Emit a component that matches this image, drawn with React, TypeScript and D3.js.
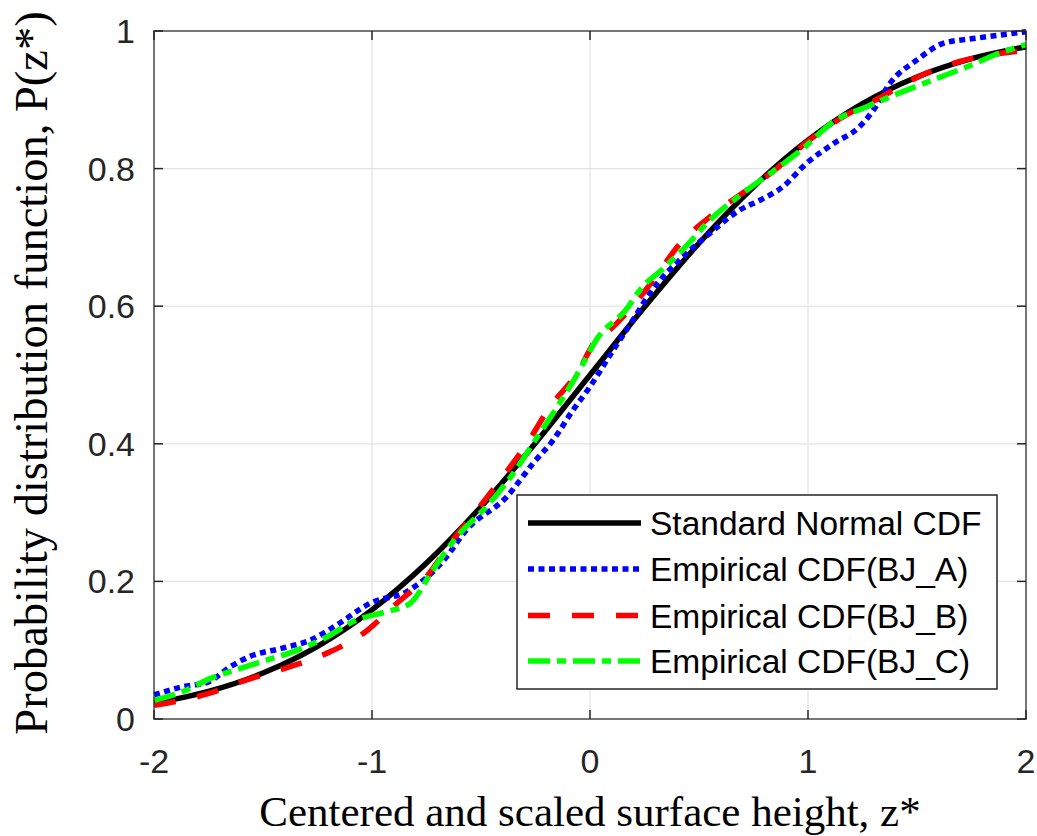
import React from "react";
import * as d3 from "d3";

const xTicks = [-2, -1, 0, 1, 2];
const yTicks = [0, 0.2, 0.4, 0.6, 0.8, 1];

const normZ = [-2, -1.75, -1.5, -1.25, -1, -0.75, -0.5, -0.25, 0, 0.25, 0.5, 0.75, 1, 1.25, 1.5, 1.75, 2];
const normP = [0.0228, 0.0401, 0.0668, 0.1056, 0.1587, 0.2266, 0.3085, 0.4013, 0.5, 0.5987, 0.6915, 0.7734, 0.8413, 0.8944, 0.9332, 0.9599, 0.9772];

// Empirical CDF (BJ_A)
const aZ = [-2, -1.867, -1.75, -1.65, -1.56, -1.41, -1.28, -1.16, -1.01, -0.83, -0.67, -0.566, -0.382, -0.26, -0.17, -0.078, 0.0, 0.106, 0.197, 0.275, 0.427, 0.55, 0.688, 0.78, 0.886, 0.994, 1.115, 1.24, 1.3, 1.376, 1.5, 1.62, 1.757, 1.88, 2.0];
const aP = [0.035, 0.047, 0.054, 0.076, 0.091, 0.103, 0.115, 0.137, 0.168, 0.187, 0.231, 0.275, 0.323, 0.372, 0.405, 0.449, 0.483, 0.536, 0.58, 0.619, 0.672, 0.706, 0.74, 0.754, 0.774, 0.808, 0.836, 0.862, 0.885, 0.924, 0.958, 0.982, 0.989, 0.994, 0.999];

// Empirical CDF (BJ_B)
const bZ = [-2, -1.76, -1.575, -1.376, -1.19, -1.025, -0.887, -0.75, -0.63, -0.505, -0.4, -0.29, -0.183, -0.06, 0.03, 0.07, 0.195, 0.29, 0.413, 0.55, 0.72, 0.84, 1.0, 1.16, 1.33, 1.51, 1.7, 1.895, 2.0];
const bP = [0.02, 0.036, 0.057, 0.076, 0.098, 0.128, 0.168, 0.207, 0.26, 0.309, 0.352, 0.4, 0.454, 0.502, 0.551, 0.56, 0.6, 0.638, 0.691, 0.73, 0.769, 0.796, 0.84, 0.875, 0.903, 0.934, 0.956, 0.968, 0.972];

// Empirical CDF (BJ_C)
const cZ = [-2, -1.867, -1.74, -1.6, -1.48, -1.36, -1.22, -1.07, -0.933, -0.826, -0.72, -0.61, -0.474, -0.352, -0.25, -0.17, -0.066, 0.04, 0.163, 0.24, 0.33, 0.44, 0.55, 0.7, 0.87, 0.98, 1.115, 1.27, 1.42, 1.574, 1.73, 1.88, 2.0];
const cP = [0.027, 0.04, 0.059, 0.074, 0.086, 0.098, 0.117, 0.144, 0.156, 0.168, 0.217, 0.265, 0.309, 0.357, 0.406, 0.444, 0.497, 0.556, 0.594, 0.628, 0.653, 0.687, 0.725, 0.764, 0.803, 0.83, 0.868, 0.89, 0.91, 0.929, 0.948, 0.968, 0.98];

const seriesNames = ["Standard Normal CDF", "Empirical CDF(BJ_A)", "Empirical CDF(BJ_B)", "Empirical CDF(BJ_C)"];

const W = 1037, H = 836;
const L = 154, R = 1026, T = 31, B = 719;
const axisColor = "#262626";

export default function App() {
  const x = d3.scaleLinear().domain([-2, 2]).range([L, R]);
  const y = d3.scaleLinear().domain([0, 1]).range([B, T]);
  const line = d3.line<[number, number]>().x(d => x(d[0])).y(d => y(d[1])).curve(d3.curveMonotoneX);
  const mk = (zs: number[], ps: number[]) => line(zs.map((z, i) => [z, ps[i]] as [number, number])) || "";

  const series = [
    { name: seriesNames[0], d: mk(normZ, normP), color: "#000000", dash: "none" },
    { name: seriesNames[1], d: mk(aZ, aP), color: "#0000ff", dash: "6,4.5" },
    { name: seriesNames[2], d: mk(bZ, bP), color: "#ff0000", dash: "22,22" },
    { name: seriesNames[3], d: mk(cZ, cP), color: "#00ff00", dash: "22,7,9,7" },
  ];

  const legX = 517, legY = 495, legW = 480, legH = 194;
  const rowY = [523, 569, 615.5, 661];
  const tickFont = "'Liberation Sans', Arial, sans-serif";
  const serif = "'Liberation Serif', 'Times New Roman', serif";

  return (
    <svg width={W} height={H} style={{ position: "absolute", left: 0, top: 0, background: "#fff" }}>
      <rect x={0} y={0} width={W} height={H} fill="#fff" />
      {/* grid */}
      {xTicks.map(t => (
        <line key={"gx" + t} x1={x(t)} x2={x(t)} y1={T} y2={B} stroke="#e3e3e3" strokeWidth={1.2} />
      ))}
      {yTicks.map(t => (
        <line key={"gy" + t} x1={L} x2={R} y1={y(t)} y2={y(t)} stroke="#e3e3e3" strokeWidth={1.2} />
      ))}
      {/* series */}
      {series.map(s => (
        <path key={s.name} d={s.d} fill="none" stroke={s.color} strokeWidth={5.5} strokeDasharray={s.dash} strokeLinejoin="round" />
      ))}
      {/* axes box */}
      <rect x={L} y={T} width={R - L} height={B - T} fill="none" stroke={axisColor} strokeWidth={1.5} opacity={0.8} />
      {xTicks.map(t => (
        <g key={"tx" + t}>
          <line x1={x(t)} x2={x(t)} y1={B} y2={B - 9} stroke={axisColor} strokeWidth={1.5} />
          <line x1={x(t)} x2={x(t)} y1={T} y2={T + 9} stroke={axisColor} strokeWidth={1.5} />
          <text x={x(t)} y={773} textAnchor="middle" fontFamily={tickFont} fontSize={34} fill={axisColor}>{String(t)}</text>
        </g>
      ))}
      {yTicks.map(t => (
        <g key={"ty" + t}>
          <line x1={L} x2={L + 9} y1={y(t)} y2={y(t)} stroke={axisColor} strokeWidth={1.5} />
          <line x1={R} x2={R - 9} y1={y(t)} y2={y(t)} stroke={axisColor} strokeWidth={1.5} />
          <text x={135} y={y(t) + 12} textAnchor="end" fontFamily={tickFont} fontSize={34} fill={axisColor}>{String(t)}</text>
        </g>
      ))}
      {/* axis labels */}
      <text x={590} y={826} textAnchor="middle" fontFamily={serif} fontSize={43} fill="#000">Centered and scaled surface height, z*</text>
      <text transform={`translate(47,373) rotate(-90)`} textAnchor="middle" fontFamily={serif} fontSize={46.5} fill="#000">Probability distribution function, P(z*)</text>
      {/* legend */}
      <rect x={legX} y={legY} width={legW} height={legH} fill="#fff" stroke={axisColor} strokeWidth={1.5} opacity={1} />
      {series.map((s, i) => (
        <g key={"lg" + i}>
          <line x1={528} x2={641} y1={rowY[i]} y2={rowY[i]} stroke={s.color} strokeWidth={5.5} strokeDasharray={s.dash} />
          <text x={650} y={rowY[i] + 12} fontFamily={tickFont} fontSize={33.5} fill="#000">{s.name}</text>
        </g>
      ))}
    </svg>
  );
}
